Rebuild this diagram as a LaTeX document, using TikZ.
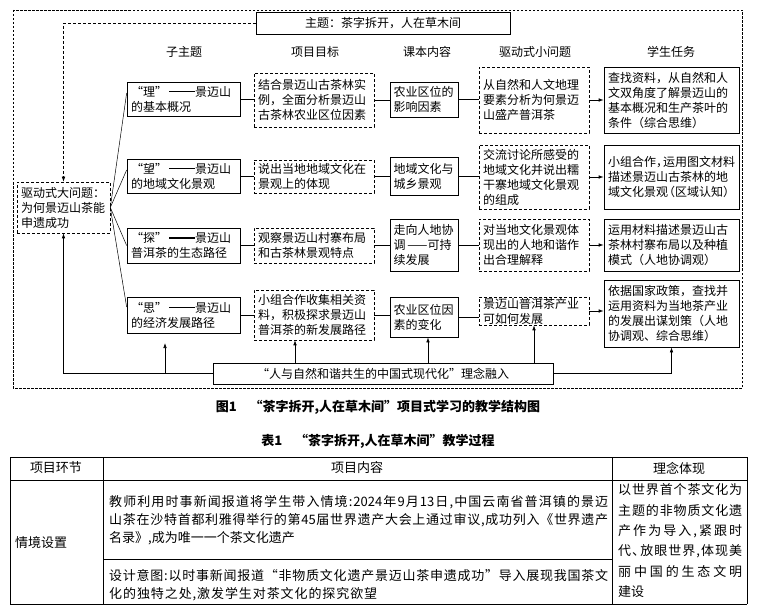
\documentclass[tikz,border=0pt]{standalone}
\usepackage{fontspec}
\setmainfont{Noto Sans CJK SC}
\usetikzlibrary{arrows.meta,calc}
\makeatletter
\def\spr@loop#1{\ifx\relax#1\else\hfil#1\expandafter\spr@loop\fi}
\def\spr@first#1{#1\spr@loop}
\newcommand\spreadln[2]{\makebox[#1][s]{\spr@first#2\relax}}
\makeatother
\newcommand\lpn{\makebox[7pt][r]{（}}
\newcommand\rpn{\makebox[7pt][l]{）}}
\newcommand\cma{\makebox[7pt][l]{，}}
\newcommand\dun{\makebox[7pt][l]{、}}
\newcommand\bdash{\hspace{2pt}\rule[3.8pt]{26pt}{1.6pt}}
\begin{document}
\begin{tikzpicture}[x=1pt,y=-1pt,
  every node/.style={inner sep=0pt, font=\fontsize{12}{15}\selectfont},
  sbox/.style={draw, line width=0.7pt, inner xsep=4pt, align=left},
  dbox/.style={draw, line width=0.6pt, dash pattern=on 3pt off 2pt, inner xsep=4pt, align=left},
  conn/.style={line width=0.7pt},
  fan/.style={line width=0.5pt},
  arr/.style={line width=0.7pt, -{Latex[length=5pt,width=3.6pt]}},
  darr/.style={line width=0.6pt, dash pattern=on 3pt off 2pt, -{Latex[length=5pt,width=3.6pt]}},
  tline/.style={line width=0.8pt},
  tfont/.style={font=\fontsize{13}{18}\selectfont},
  capfont/.style={font=\fontsize{13}{16}\selectfont\bfseries}
]
\useasboundingbox[fill=white] (0,0) rectangle (758,615);

% outer frame
\draw[line width=0.6pt, dash pattern=on 2.5pt off 1.5pt] (13,10) rectangle (742,388);

% theme
\node[sbox, minimum width=254pt, minimum height=22pt] (theme) at (383,23) {主题：茶字拆开，人在草木间};

% headers
\node (h1) at (184,52) {子主题};
\node (h2) at (315,52) {项目目标};
\node (h3) at (427,52) {课本内容};
\node (h4) at (535,52) {驱动式小问题};
\node (h5) at (671,52) {学生任务};

% left big question
\node[dbox, text width=85pt, minimum height=51pt] (big) at (63.5,207.5) {驱动式大问题：\\为何景迈山茶能\\申遗成功};

% sub-topics
\node[sbox, text width=105pt, minimum height=34pt] (s1) at (183.5,99) {“理”\bdash 景迈山\\的基本概况};
\node[sbox, text width=105pt, minimum height=34pt] (s2) at (183.5,176) {“望”\bdash 景迈山\\的地域文化景观};
\node[sbox, text width=105pt, minimum height=35pt] (s3) at (183.5,245.5) {“探”\bdash 景迈山\\普洱茶的生态路径};
\node[sbox, text width=105pt, minimum height=36pt] (s4) at (183.5,315) {“思”\bdash 景迈山\\的经济发展路径};

% goals
\node[dbox, text width=112pt, minimum height=54pt] (g1) at (314,100) {结合景迈山古茶林实\\例，全面分析景迈山\\古茶林农业区位因素};
\node[dbox, text width=112pt, minimum height=33pt] (g2) at (314,176.5) {说出当地地域文化在\\景观上的体现};
\node[dbox, text width=112pt, minimum height=35pt] (g3) at (314,245.5) {观察景迈山村寨布局\\和古茶林景观特点};
\node[dbox, text width=112pt, minimum height=50pt] (g4) at (314,315) {小组合作收集相关资\\料，积极探求景迈山\\普洱茶的新发展路径};

% textbook content
\node[sbox, text width=61pt, inner xsep=3.5pt, minimum height=35pt] (k1) at (424,99.5) {农业区位的\\影响因素};
\node[sbox, text width=61pt, inner xsep=3.5pt, minimum height=38pt] (k2) at (424,176) {地域文化与\\城乡景观};
\node[sbox, text width=61pt, inner xsep=3.5pt, minimum height=52pt] (k3) at (424,245) {走向人地协\\调\,——可持\\续发展};
\node[sbox, text width=61pt, inner xsep=3.5pt, minimum height=40pt] (k4) at (424,317) {农业区位因\\素的变化};

% driving small questions
\node[dbox, text width=102pt, minimum height=66pt] (q1) at (534,100) {从自然和人文地理\\要素分析为何景迈\\山盛产普洱茶};
\node[dbox, text width=102pt, minimum height=64pt] (q2) at (534,177) {交流讨论所感受的\\地域文化并说出糯\\干寨地域文化景观\\的组成};
\node[dbox, text width=102pt, minimum height=52pt] (q3) at (534,245) {对当地文化景观体\\现出的人地和谐作\\出合理解释};
\node[dbox, text width=102pt, minimum height=28pt] (q4) at (534,311) {景迈山普洱茶产业\\可如何发展};

% student tasks
\node[sbox, text width=127pt, minimum height=66pt] (t1) at (671.5,100) {查找资料，从自然和人\\文双角度了解景迈山的\\基本概况和生产茶叶的\\条件（综合思维）};
\node[sbox, text width=127pt, minimum height=64pt] (t2) at (671.5,177) {小组合作\cma 运用图文材料\\描述景迈山古茶林的地\\域文化景观\lpn 区域认知\rpn};
\node[sbox, text width=127pt, minimum height=52pt] (t3) at (671.5,245) {运用材料描述景迈山古\\茶林村寨布局以及种植\\模式（人地协调观）};
\node[sbox, text width=127pt, minimum height=67pt] (t4) at (671.5,313.5) {依据国家政策，查找并\\运用资料为当地茶产业\\的发展出谋划策（人地\\协调观、综合思维）};

% bottom idea box
\node[sbox, minimum width=340pt, minimum height=21pt] (bot) at (383,373.5) {“人与自然和谐共生的中国式现代化”理念融入};

% theme -> big question
\draw[darr] (theme.west) -| (big.north);

% fan from big question to sub-topics
\draw[fan] (big.east) -- ($(s1.west)+(0,-6)$);
\draw[fan] (big.east) -- ($(s2.west)+(0,-6)$);
\draw[fan] (big.east) -- (s3.west);
\draw[fan] (big.east) -- ($(s4.west)+(0,-8)$);

% row connectors
\foreach \r in {1,2,3,4}{
  \draw[conn] (s\r.east) -- (s\r.east -| g\r.west);
  \draw[conn] (g\r.east) -- (g\r.east -| k\r.west);
  \draw[conn] (k\r.east) -- (k\r.east -| q\r.west);
  \draw[arr] (q\r.east) -- (q\r.east -| t\r.west);
}

% bottom connectors
\coordinate (xg) at (295,0);
\coordinate (xk) at (428,0);
\coordinate (ps) at (165,373.5);
\coordinate (pe) at (165,343);
\draw[arr] (bot.west) -| (big.south);
\draw[arr] (ps) -- (pe);
\draw[arr] (bot.north -| xg) -- (g4.south -| xg);
\draw[arr] (bot.north -| xk) -- (k4.south -| xk);
\draw[arr] (bot.north -| q4.south) -- (q4.south);
\draw[arr] (bot.east) -| (t4.south);

% captions
\node[capfont] (cap1) at (378,407) {图1\quad“茶字拆开,人在草木间”项目式学习的教学结构图};
\node[capfont] (cap2) at (378,441) {表1\quad“茶字拆开,人在草木间”教学过程};

% table lines
\draw[tline] (10,457) -- (747,457);
\draw[tline] (10,480) -- (747,480);
\draw[tline] (10,604) -- (747,604);
\draw[tline] (10,457) -- (10,604);
\draw[tline] (103,457) -- (103,604);
\draw[tline] (612,457) -- (612,604);
\draw[tline] (747,457) -- (747,604);
\draw[tline] (103,559) -- (612,559);

% table text
\node[tfont] (th1) at (56,468) {项目环节};
\node[tfont] (th2) at (357,468) {项目内容};
\node[tfont] (th3) at (679,468) {理念体现};
\node[tfont, anchor=west] (tc1) at (15,543) {情境设置};

\node[tfont, anchor=west] (l1) at (109,502) {\spreadln{499pt}{教师利用时事新闻报道将学生带入情境:{2024}年9月{13}日,中国云南省普洱镇的景迈}};
\node[tfont, anchor=west] (l2) at (109,520) {\spreadln{499pt}{山茶在沙特首都利雅得举行的第{45}届世界遗产大会上通过审议,成功列入《世界遗产}};
\node[tfont, anchor=west] (l3) at (109,538) {名录》,成为唯一一个茶文化遗产};
\node[tfont, anchor=west] (l4) at (109,576) {\spreadln{499pt}{设计意图:以时事新闻报道“非物质文化遗产景迈山茶申遗成功”导入展现我国茶文}};
\node[tfont, anchor=west] (l5) at (109,594) {\spreadln{268pt}{化的独特之处,激发学生对茶文化的探究欲望}};

\node[tfont, anchor=west] (r1) at (618,490) {\spreadln{124pt}{以世界首个茶文化为}};
\node[tfont, anchor=west] (r2) at (618,510.5) {\spreadln{124pt}{主题的非物质文化遗}};
\node[tfont, anchor=west] (r3) at (618,531) {\spreadln{124pt}{产作为导入,紧跟时}};
\node[tfont, anchor=west] (r4) at (618,551.5) {\spreadln{124pt}{代{\dun}放眼世界,体现美}};
\node[tfont, anchor=west] (r5) at (618,572) {\spreadln{124pt}{丽中国的生态文明}};
\node[tfont, anchor=west] (r6) at (618,592) {建设};
\end{tikzpicture}
\end{document}
